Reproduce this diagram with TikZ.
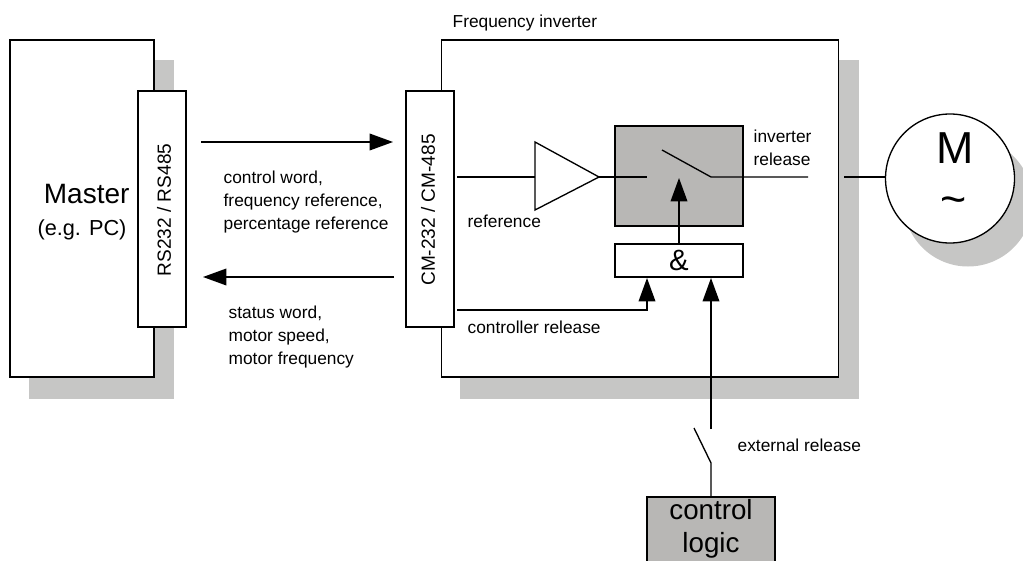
\documentclass[tikz,border=0pt]{standalone}
\usepackage{fontspec}
\setmainfont{Liberation Sans}
\usetikzlibrary{arrows.meta}

\begin{document}
\begin{tikzpicture}[x=0.75pt, y=-0.75pt, line width=1pt,
    box/.style={draw, fill=white, inner sep=0pt, outer sep=0pt},
    graybox/.style={box, fill=boxgray},
    dropbox/.style={fill=dropgray, inner sep=0pt, outer sep=0pt},
    label/.style={anchor=west, align=left, inner sep=0pt, font=\fontsize{13}{17.2}\selectfont},
    port/.style={rotate=90, inner sep=0pt, font=\fontsize{14.3}{17}\selectfont},
    arrow/.style={-{Triangle[length=17.5pt, width=12.5pt]}}]
    \definecolor{boxgray}{HTML}{B8B7B5}
    \definecolor{dropgray}{HTML}{C6C6C5}
    \clip (0,0) rectangle (1023,560);

    % drop shadows
    \node[dropbox] (masterdrop) [minimum width=108.75pt, minimum height=254.25pt] at (101.5,229.5) {};
    \node[dropbox] (inverterdrop) [minimum width=299.25pt, minimum height=254.25pt] at (659.5,229.5) {};
    \node[dropbox, circle, minimum size=96.75pt] (motordrop) at (968,202) {};

    % main blocks
    \node[box] (master) [minimum width=108pt, minimum height=252.75pt] at (82,208.5) {};
    \node[box] (rs) [minimum width=36pt, minimum height=177pt] at (162,209) {};
    \node[box] (inverter) [minimum width=297.75pt, minimum height=252.75pt] at (640,208.5) {};
    \node[box] (cm) [minimum width=36pt, minimum height=177pt] at (430,209) {};
    \node[graybox] (gate) [minimum width=96pt, minimum height=75pt] at (679,176) {};
    \node[box] (and) [minimum width=96pt, minimum height=24.75pt, below of=gate, node distance=63.4pt, font=\fontsize{22}{22}\selectfont] {\&};
    \node[box, circle, minimum size=96.75pt] (motor) at (950,178.5) {};
    \node[graybox, anchor=north, minimum width=96pt, minimum height=60pt] (logic) at (711,497) {};

    \node[inner sep=0pt, align=center, font=\fontsize{21}{24}\selectfont] (mastertext) at (82,212) {\hspace*{7pt}Master\\[0pt]{\fontsize{16.3}{20}\selectfont (e.g. PC)}};
    \node[port] (rstext) at (164,210) {RS232 / RS485};
    \node[port] (cmtext) at (428,210) {CM-232 / CM-485};
    \node[inner sep=0pt, align=center, font=\fontsize{20.8}{24.75}\selectfont] (logictext) at (711,529) {control\\logic};
    \node[inner sep=0pt, font=\fontsize{33.6}{34}\selectfont] (mtext) at (955,148) {M};
    \node[inner sep=0pt, font=\fontsize{33.6}{34}\selectfont] (tildetext) at (954,206) {\textasciitilde};

    % labels
    \node[label] (freqtext) at (452,23) {Frequency inverter};
    \node[label] (cmdtext) at (223,202) {control word,\\frequency reference,\\percentage reference};
    \node[label] (statustext) at (228,337) {status word,\\motor speed,\\motor frequency};
    \node[label] (reftext) at (467,221) {reference};
    \node[label] (ctrltext) at (467,327) {controller release};
    \node[label] (reltext) at (753,148) {inverter\\release};
    \node[label] (exttext) at (737,445) {external release};

    % free ends of the connectors
    \coordinate (tx1) at (201,142);
    \coordinate (tx2) at (393,142);
    \coordinate (rx1) at (394,277);
    \coordinate (rx2) at (203,277);
    \coordinate (ref1) at (457,177);
    \coordinate (ampa) at (535,142);
    \coordinate (ampb) at (535,210);
    \coordinate (ampc) at (599,177);
    \coordinate (ref2) at (535,177);
    \coordinate (sw1) at (647,177);
    \coordinate (sw2) at (662,150);
    \coordinate (sw3) at (711,177);
    \coordinate (out1) at (808,177);
    \coordinate (out2) at (844,177);
    \coordinate (mot) at (886,177);
    \coordinate (gatein) at (679,178);
    \coordinate (ctrl1) at (457,310);
    \coordinate (ctrl2) at (647,310);
    \coordinate (ctrl3) at (647,278);
    \coordinate (ext1) at (711,278);
    \coordinate (ext2) at (711,429);
    \coordinate (ext3) at (694,428);
    \coordinate (ext4) at (711,463);

    \draw[arrow] (tx1) -- (tx2);
    \draw[arrow] (rx1) -- (rx2);
    \draw (ref1) -- (ref2);
    \draw (ampa) -- (ampb) -- (ampc) -- cycle;
    \draw (ampc) -- (sw1);
    \draw (sw2) -- (sw3) -- (out1);
    \draw (out2) -- (mot);
    \draw[arrow] (and) -- (gatein);
    \draw[arrow] (ctrl1) -- (ctrl2) -- (ctrl3);
    \draw[arrow] (ext2) -- (ext1);
    \draw (ext3) -- (ext4) -- (logic.north);
\end{tikzpicture}
\end{document}
